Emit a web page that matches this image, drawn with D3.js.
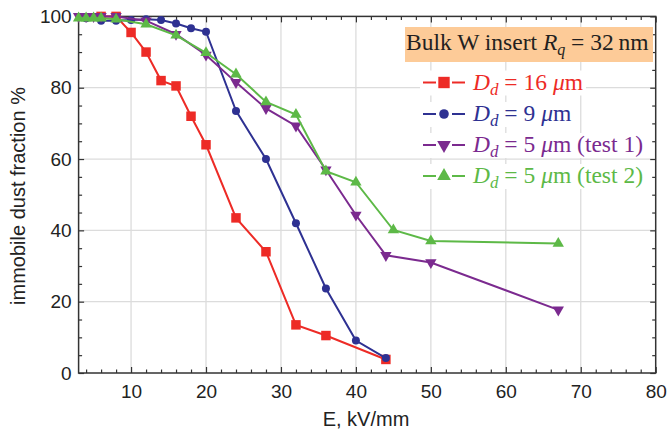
<!DOCTYPE html>
<html><head><meta charset="utf-8">
<script src="https://cdn.jsdelivr.net/npm/d3@7"></script>
<style>body{margin:0;background:#fff;} svg{display:block;}</style>
</head><body>
<svg id="chart" width="667" height="435"></svg>
<script>
// ---- data ----
const xTicks = [10,20,30,40,50,60,70,80];
const yTicks = [0,20,40,60,80,100];
const redX = [6,8,10,12,14,16,18,20,24,28,32,36,44];
const redY = [100,100,95.5,90,82,80.5,72,64,43.5,34,13.5,10.5,3.8];
const blueX = [4,6,8,10,12,14,16,18,20,24,28,32,36,40,44];
const blueY = [99.5,98.8,98.8,99,99.2,99,98,96.7,95.7,73.5,60,42,23.7,9.1,4.2];
const purpleX = [3,4,5,6,8,12,16,20,24,28,32,36,40,44,50,67];
const purpleY = [100,100,100,100,100,98.8,95,89.2,81.5,74.2,69.3,57,44.3,33,31,17.7];
const greenX = [3,4,5,6,8,12,16,20,24,28,32,36,40,45,50,67];
const greenY = [99.5,99.5,99.5,99.5,99.2,97.8,94.7,89.8,83.8,76,72.5,56.6,53.5,40.1,37,36.3];
const seriesNames = ["16 ", "9 ", "5 ", "5 "];
const seriesSuffix = ["", "", " (test 1)", " (test 2)"];

const series = [
  {x: redX, y: redY, color: "#ED2B26", sym: "square"},
  {x: blueX, y: blueY, color: "#2E3192", sym: "circle"},
  {x: purpleX, y: purpleY, color: "#7B2A8F", sym: "down"},
  {x: greenX, y: greenY, color: "#5DB947", sym: "up"}
];

const svg = d3.select("#chart");
const L = 78.6, R = 655.7, T = 16.4, B = 373;
const x = d3.scaleLinear().domain([3,80]).range([L,R]);
const y = d3.scaleLinear().domain([0,100]).range([B,T]);
const axisColor = "#333";
const sans = "'Liberation Sans', Arial, sans-serif";
const serif = "'Liberation Serif', 'Times New Roman', serif";

// grid
const grid = svg.append("g");
grid.selectAll(".gx").data(xTicks.filter(d => d < 80)).enter().append("line")
  .attr("x1", d => x(d)).attr("x2", d => x(d)).attr("y1", T).attr("y2", B)
  .attr("stroke", "#dcdcdc").attr("stroke-width", 1.3);
grid.selectAll(".gy").data(yTicks.filter(d => d > 0 && d < 100)).enter().append("line")
  .attr("y1", d => y(d)).attr("y2", d => y(d)).attr("x1", L).attr("x2", R)
  .attr("stroke", "#dcdcdc").attr("stroke-width", 1.3);

// axes with inward ticks
const xMinor = d3.range(4, 80, 2).filter(d => d % 10 !== 0);
const yMinor = d3.range(5, 100, 5).filter(d => d % 20 !== 0);
function styleAxis(g){ g.select(".domain").remove(); g.selectAll("line").attr("stroke", axisColor).attr("stroke-width", 1.2); }
svg.append("g").attr("transform", `translate(0,${B})`)
  .call(d3.axisBottom(x).tickValues(xTicks).tickSizeInner(-6).tickSizeOuter(0).tickPadding(12))
  .call(styleAxis)
  .call(g => g.selectAll("text").attr("font-family", sans).attr("font-size", 19).attr("fill", "#222"));
svg.append("g").attr("transform", `translate(0,${B})`)
  .call(d3.axisBottom(x).tickValues(xMinor).tickSize(-3.5).tickFormat(""))
  .call(styleAxis);
svg.append("g").attr("transform", `translate(${L},0)`)
  .call(d3.axisLeft(y).tickValues(yTicks).tickSizeInner(-5.5).tickSizeOuter(0).tickPadding(12))
  .call(styleAxis)
  .call(g => g.selectAll("text").attr("font-family", sans).attr("font-size", 19).attr("fill", "#222").attr("dx", 5));
svg.append("g").attr("transform", `translate(${L},0)`)
  .call(d3.axisLeft(y).tickValues(yMinor).tickSize(-3.5).tickFormat(""))
  .call(styleAxis);
// top and right ticks
svg.append("g").attr("transform", `translate(0,${T})`)
  .call(d3.axisTop(x).tickValues(xTicks).tickSize(-6).tickFormat("")).call(styleAxis);
svg.append("g").attr("transform", `translate(0,${T})`)
  .call(d3.axisTop(x).tickValues(xMinor).tickSize(-3.5).tickFormat("")).call(styleAxis);
svg.append("g").attr("transform", `translate(${R},0)`)
  .call(d3.axisRight(y).tickValues(yTicks).tickSize(-5.5).tickFormat("")).call(styleAxis);
svg.append("g").attr("transform", `translate(${R},0)`)
  .call(d3.axisRight(y).tickValues(yMinor).tickSize(-3.5).tickFormat("")).call(styleAxis);
// frame
svg.append("rect").attr("x", L).attr("y", T).attr("width", R-L).attr("height", B-T)
  .attr("fill", "none").attr("stroke", axisColor).attr("stroke-width", 1.5);

// axis titles
svg.append("text").attr("x", 366).attr("y", 426).attr("text-anchor", "middle")
  .attr("font-family", sans).attr("font-size", 20).attr("fill", "#222").text("E, kV/mm");
svg.append("text").attr("transform", "translate(25,196) rotate(-90)").attr("text-anchor", "middle")
  .attr("font-family", sans).attr("font-size", 20).attr("fill", "#222").text("immobile dust fraction %");

// symbols
function symPath(sym, scale){
  scale = scale || 1;
  if (sym === "square") return d3.symbol(d3.symbolSquare, 90*scale*scale)();
  if (sym === "circle") return d3.symbol(d3.symbolCircle, Math.PI*16*scale*scale)();
  return d3.symbol(d3.symbolTriangle, 56*scale*scale)();
}
function symTransform(sym, px, py){
  return sym === "down" ? `translate(${px},${py}) rotate(180)` : `translate(${px},${py})`;
}

// series
const line = d3.line().x(d => x(d[0])).y(d => y(d[1]));
series.forEach(s => {
  const pts = s.x.map((v,i) => [v, s.y[i]]);
  const g = svg.append("g");
  g.append("path").attr("d", line(pts)).attr("fill", "none").attr("stroke", s.color).attr("stroke-width", 2);
  g.selectAll("path.m").data(pts).enter().append("path").attr("class", "m")
    .attr("d", symPath(s.sym)).attr("transform", d => symTransform(s.sym, x(d[0]), y(d[1])))
    .attr("fill", s.color);
});

// legend header
svg.append("rect").attr("x", 405).attr("y", 27).attr("width", 248).attr("height", 35).attr("fill", "#FDCB98");
const head = svg.append("text").attr("x", 406).attr("y", 49.5).attr("font-family", serif).attr("font-size", 23.5).attr("fill", "#231F20");
head.append("tspan").text("Bulk W insert ");
head.append("tspan").attr("font-style", "italic").text("R");
head.append("tspan").attr("font-style", "italic").attr("font-size", 16).attr("dy", 5).text("q");
head.append("tspan").attr("dy", -5).text(" = 32\u2009nm");

// legend entries
const rowY = [89.5, 121, 152, 183];
series.forEach((s, i) => {
  const g = svg.append("g");
  const bg = g.append("rect").attr("fill", "#fff");
  const ly = rowY[i] - 7;
  g.append("line").attr("x1", 423).attr("x2", 436).attr("y1", ly).attr("y2", ly).attr("stroke", s.color).attr("stroke-width", 2);
  g.append("line").attr("x1", 452).attr("x2", 465).attr("y1", ly).attr("y2", ly).attr("stroke", s.color).attr("stroke-width", 2);
  g.append("path").attr("d", symPath(s.sym, 1.2)).attr("transform", symTransform(s.sym, 444, ly)).attr("fill", s.color);
  const t = g.append("text").attr("x", 473).attr("y", rowY[i]).attr("font-family", serif).attr("font-size", 23.5).attr("fill", s.color);
  t.append("tspan").attr("font-style", "italic").text("D");
  t.append("tspan").attr("font-style", "italic").attr("font-size", 17).attr("dy", 5).text("d");
  t.append("tspan").attr("dy", -5).text(" = " + seriesNames[i]);
  t.append("tspan").attr("font-style", "italic").text("\u03BC");
  t.append("tspan").text("m" + seriesSuffix[i]);
  const bb = g.node().getBBox();
  bg.attr("x", bb.x - 3).attr("y", rowY[i] - 19).attr("width", bb.width + 6).attr("height", 25);
});
</script>
</body></html>
